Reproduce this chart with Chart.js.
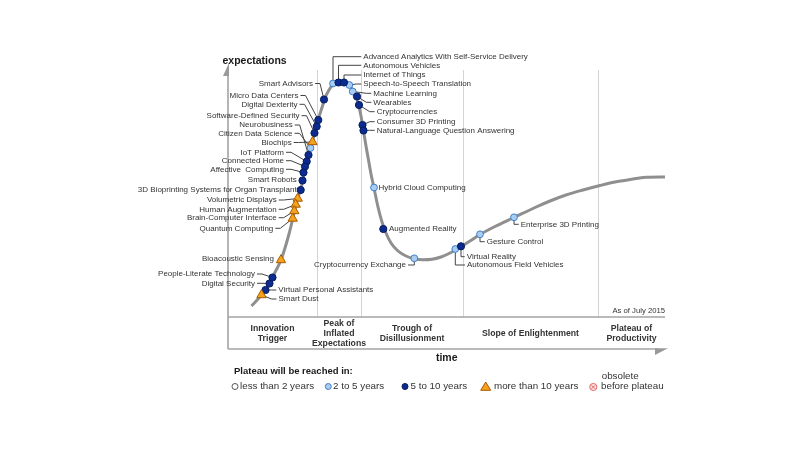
<!DOCTYPE html>
<html><head><meta charset="utf-8">
<script src="https://cdn.jsdelivr.net/npm/chart.js@4/dist/chart.umd.min.js"></script>
<style>html,body{margin:0;padding:0;background:#fff}canvas{display:block}</style>
</head><body>
<canvas id="c" width="810" height="450"></canvas>
<script>
// ---------------- data ----------------
const techNames = [
 "Advanced Analytics With Self-Service Delivery","Autonomous Vehicles","Internet of Things",
 "Speech-to-Speech Translation","Machine Learning","Wearables","Cryptocurrencies",
 "Consumer 3D Printing","Natural-Language Question Answering","Hybrid Cloud Computing",
 "Augmented Reality","Cryptocurrency Exchange","Autonomous Field Vehicles","Virtual Reality",
 "Gesture Control","Enterprise 3D Printing","Smart Advisors","Micro Data Centers",
 "Digital Dexterity","Software-Defined Security","Neurobusiness","Citizen Data Science",
 "Biochips","IoT Platform","Connected Home","Affective  Computing","Smart Robots",
 "3D Bioprinting Systems for Organ Transplant","Volumetric Displays","Human Augmentation",
 "Brain-Computer Interface","Quantum Computing","Bioacoustic Sensing",
 "People-Literate Technology","Digital Security","Virtual Personal Assistants","Smart Dust"];
const techTime = [105,110.5,116,121.3,124.7,129,131,134.5,135.5,146,155.3,186.3,227.3,233,252,286,
 96,90.3,88.7,86.5,80.5,82.5,84.5,78.7,77,75.5,74.5,72.7,69.7,67.7,66.3,64.7,53,44.5,41.5,37.5,33.5];
const techExpect = [233.5,234.5,234.5,232,225.5,220.5,212,192,186.5,129.5,88,58.7,68,70.7,82.7,99.7,
 217.5,197,190.5,184,162,169,175,155.5,150.5,144.5,136.5,127,118.5,112.5,106,98.5,57,39.5,33.5,27,22];
// a = less than 2 years, b = 2 to 5, c = 5 to 10, d = more than 10
const techPlateau = ["b","c","c","b","b","c","c","c","c","b","c","b","b","c","b","b",
 "c","c","c","c","c","b","d","c","c","c","c","c","d","d","d","d","d","c","c","c","d"];

const curveTime = [23.5,30,35,40,45,49,53,57,61,64.5,67.5,70.5,73,75,77,79,81,83,85,87,89,91,94,97,101,105,110,116,
 121,124.5,128,130.5,133,134.5,136,138,140.5,143,146,150,154,158,163,170,178,186,195,204,213,221,228,234,242,252,
 267,286,307,322,338,355,372,387,402,418,437];
const curveExpect = [11,18,24,31,41,48.5,57,69,83,97,110,121,129,138,148,157,164,171,177.5,185,193,200,209.5,219,227,232.5,235,235.5,
 233,227,220.5,212,201,192,183,171,157,143,129,110,95,84,74,66,61,58.3,57.2,57.7,60,63.5,67.5,71,76,82.5,
 90.5,99.5,109.5,116,122,127,131.5,135,137.5,139.7,140];

const phaseNames = [["Innovation","Trigger"],["Peak of","Inflated","Expectations"],["Trough of","Disillusionment"],
 ["Slope of Enlightenment"],["Plateau of","Productivity"]];
const phaseEdges = [0,89,133,235,370,437];
const legendTitle = "Plateau will be reached in:";
const legendLabels = ["less than 2 years","2 to 5 years","5 to 10 years","more than 10 years"];
const obsoleteLabel = ["obsolete","before plateau"];
const yTitle = "expectations", xTitle = "time", asOf = "As of July 2015";

// ---------------- layout (label offsets in px from the point) ----------------
// [dx, dy, align l/r, leader e=elbow v=vertical n=none]
const labelLayout = [
 [30.3,-26.8,"l","v"],[24.8,-17.2,"l","v"],[19.3,-7.5,"l","v"],[14,-1,"l","e"],[20.6,1.8,"l","e"],
 [16.3,5.8,"l","e"],[17.7,6.7,"l","e"],[14.2,-3.3,"l","e"],[13.2,-0.2,"l","e"],[4.5,0,"l","n"],
 [5.7,-0.5,"l","n"],[-8.3,6.7,"r","v"],[11.7,16,"l","v"],[5.7,10.4,"l","v"],[6.7,7.4,"l","v"],
 [6.7,7,"l","v"],[-11,-16,"r","e"],[-19.8,-24.5,"r","e"],[-19.2,-22.2,"r","e"],[-15,-17.3,"r","e"],
 [-15.8,-30,"r","e"],[-18,-14.7,"r","e"],[-20.8,0.5,"r","e"],[-22.7,-9.2,"r","e"],[-21,-5.8,"r","e"],
 [-19.5,-3.2,"r","e"],[-5.8,-0.5,"r","n"],[-4,-0.7,"r","n"],[-21,1.5,"r","e"],[-19,4.8,"r","e"],
 [-17.6,6.7,"r","e"],[-19.4,9.8,"r","e"],[-7,-1.7,"r","n"],[-17.5,-3.5,"r","e"],[-14.5,-0.2,"r","e"],
 [12.8,0,"l","e"],[17,4,"l","e"]];

const FONT = '"Liberation Sans", Arial, sans-serif';
const styles = {
  a:{bg:"#ffffff",bd:"#555555",style:"circle",r:3.2},
  b:{bg:"#a9cdf0",bd:"#3f7fc9",style:"circle",r:3.4},
  c:{bg:"#0b2b8e",bd:"#061a5e",style:"circle",r:3.6},
  d:{bg:"#f5a21c",bd:"#a85a00",style:"triangle",r:5.4}
};

function ptsFor(code){
  const out=[];
  techNames.forEach((n,i)=>{ if(techPlateau[i]===code) out.push({x:techTime[i],y:techExpect[i]}); });
  return out;
}
const curvePts = curveTime.map((t,i)=>({x:t,y:curveExpect[i]}));

const datasets = [
  {type:"line",data:curvePts,borderColor:"#8f8f8f",borderWidth:3,pointRadius:0,tension:0.4,
   cubicInterpolationMode:"monotone",order:10,clip:false},
];
["a","b","c","d"].forEach((k,j)=>{
  datasets.push({type:"scatter",data:ptsFor(k),pointStyle:styles[k].style,pointRadius:styles[k].r,
    backgroundColor:styles[k].bg,borderColor:styles[k].bd,borderWidth:1,order:4-j,clip:false});
});

function seg(ctx,pts){ctx.beginPath();ctx.moveTo(pts[0][0],pts[0][1]);for(let i=1;i<pts.length;i++)ctx.lineTo(pts[i][0],pts[i][1]);ctx.stroke();}

const hype = {
  id:"hype",
  beforeDatasetsDraw(chart){
    const {ctx,chartArea:a,scales:{x,y}}=chart;
    ctx.save();
    // phase separators
    ctx.strokeStyle="#d4d4d4";ctx.lineWidth=1;
    for(let i=1;i<phaseEdges.length-1;i++){
      const px=Math.round(x.getPixelForValue(phaseEdges[i]))+0.5;
      seg(ctx,[[px,a.top+5],[px,a.bottom]]);
    }
    // axes / phase box
    ctx.strokeStyle="#a3a3a3";ctx.lineWidth=1.6;
    const L=a.left, R=a.right;
    seg(ctx,[[L,a.top+10],[L,a.bottom+32]]);
    seg(ctx,[[L,a.bottom],[R,a.bottom]]);
    seg(ctx,[[L,a.bottom+32],[R-8,a.bottom+32]]);
    ctx.fillStyle="#999999";
    ctx.beginPath();ctx.moveTo(L+1,a.top-2);ctx.lineTo(L+1,a.top+11);ctx.lineTo(L-5,a.top+11);ctx.closePath();ctx.fill();
    ctx.beginPath();ctx.moveTo(R-10,a.bottom+31.2);ctx.lineTo(R+3,a.bottom+31.2);ctx.lineTo(R-10,a.bottom+38);ctx.closePath();ctx.fill();
    // leader lines
    ctx.strokeStyle="#444444";ctx.lineWidth=1;
    techNames.forEach((n,i)=>{
      const px=x.getPixelForValue(techTime[i]), py=y.getPixelForValue(techExpect[i]);
      const [dx,dy,al,ld]=labelLayout[i];
      const tx=px+dx, ty=py+dy, ex=tx+(al==="l"?-2:2);
      if(ld==="e"){ seg(ctx,[[ex,ty],[ex+(al==="l"?-5:5),ty],[px,py]]); }
      else if(ld==="v"){ seg(ctx,[[px,py],[px,ty],[ex,ty]]); }
    });
    ctx.restore();
  },
  afterDatasetsDraw(chart){
    const {ctx,chartArea:a,scales:{x,y}}=chart;
    ctx.save();
    ctx.textBaseline="middle";
    // tech labels
    ctx.fillStyle="#333333";ctx.font="8px "+FONT;
    techNames.forEach((n,i)=>{
      const px=x.getPixelForValue(techTime[i]), py=y.getPixelForValue(techExpect[i]);
      const [dx,dy,al]=labelLayout[i];
      ctx.textAlign=al==="l"?"left":"right";
      ctx.fillText(n,px+dx,py+dy);
    });
    // titles
    ctx.fillStyle="#1a1a1a";ctx.font="bold 10.5px "+FONT;
    ctx.textAlign="left";ctx.fillText(yTitle,a.left-5.5,a.top-4);
    ctx.textAlign="center";ctx.fillText(xTitle,446.7,a.bottom+41);
    ctx.fillStyle="#333333";ctx.font="7.7px "+FONT;ctx.textAlign="right";
    ctx.fillText(asOf,a.right,a.bottom-6.5);
    // phase names
    ctx.font="bold 8.7px "+FONT;ctx.textAlign="center";ctx.fillStyle="#333333";
    phaseNames.forEach((lines,i)=>{
      const cx=(x.getPixelForValue(phaseEdges[i])+x.getPixelForValue(phaseEdges[i+1]))/2;
      const lh=9.7, cy=a.bottom+16.7;
      lines.forEach((t,k)=>ctx.fillText(t,cx,cy+(k-(lines.length-1)/2)*lh));
    });
    // legend
    ctx.textAlign="left";ctx.fillStyle="#1a1a1a";ctx.font="bold 9.5px "+FONT;
    ctx.fillText(legendTitle,234,371);
    const ly=386.5, mx=[235,328.3,405,485.7], tx=[240,333,410.5,494];
    ctx.font="9.8px "+FONT;
    ["a","b","c","d"].forEach((k,i)=>{
      const s=styles[k];
      ctx.fillStyle=s.bg;ctx.strokeStyle=s.bd;ctx.lineWidth=1;
      ctx.beginPath();
      if(s.style==="circle"){ctx.arc(mx[i],ly,k==="c"?3:3,0,Math.PI*2);}
      else{ctx.moveTo(mx[i],ly-4.5);ctx.lineTo(mx[i]+5,ly+3.8);ctx.lineTo(mx[i]-5,ly+3.8);ctx.closePath();}
      ctx.fill();ctx.stroke();
      ctx.fillStyle="#333333";ctx.fillText(legendLabels[i],tx[i],ly);
    });
    // obsolete marker
    ctx.strokeStyle="#e06c6c";ctx.fillStyle="#fde3e3";ctx.lineWidth=1;
    ctx.beginPath();ctx.arc(593.3,ly+0.5,3.6,0,Math.PI*2);ctx.fill();ctx.stroke();
    seg(ctx,[[591.5,ly-1.3],[595.1,ly+2.3]]);seg(ctx,[[595.1,ly-1.3],[591.5,ly+2.3]]);
    ctx.fillStyle="#333333";
    ctx.fillText(obsoleteLabel[0],601.7,376.5);
    ctx.fillText(obsoleteLabel[1],601,386.5);
    ctx.restore();
  }
};

new Chart(document.getElementById("c"),{
  data:{datasets},
  options:{
    responsive:false,animation:false,events:[],
    layout:{padding:{left:228,right:145,top:65,bottom:133}},
    scales:{
      x:{type:"linear",min:0,max:437,display:false},
      y:{type:"linear",min:0,max:252,display:false}
    },
    plugins:{legend:{display:false},tooltip:{enabled:false}}
  },
  plugins:[hype]
});
</script>
</body></html>
